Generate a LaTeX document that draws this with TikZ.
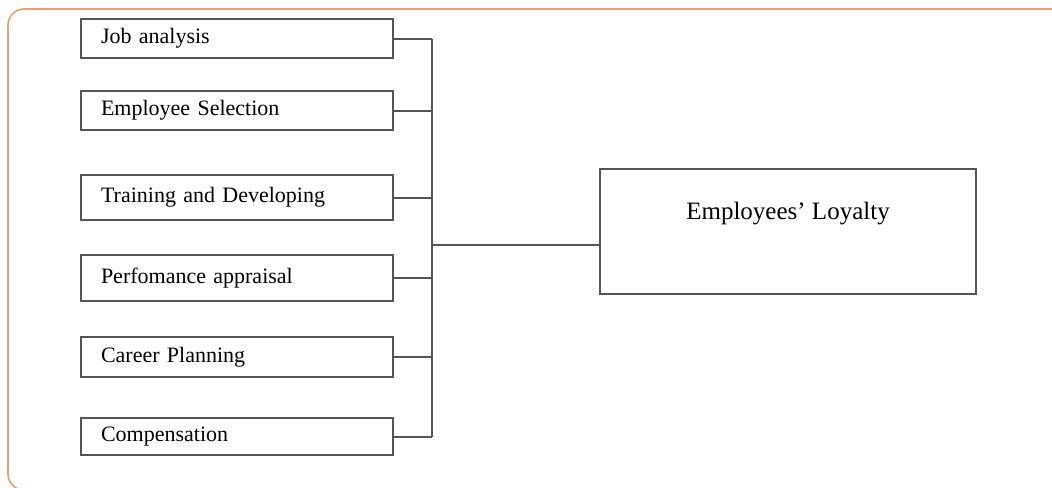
\documentclass[tikz,border=0pt]{standalone}
\usepackage{fontspec}
\setmainfont{Liberation Serif}
\usepackage{tikz}
\definecolor{framecol}{RGB}{232,160,112}
\definecolor{linecol}{RGB}{85,85,85}
\newcommand{\boxcol}{linecol}

\begin{document}
\begin{tikzpicture}[x=0.5pt, y=-0.5pt,
    factor/.style={draw=\boxcol, line width=1pt, rectangle, inner xsep=10pt,
      text width=136pt, align=left, minimum height=19.5pt, font=\fontsize{11}{13}\selectfont},
    result/.style={draw=\boxcol, line width=1pt, rectangle, minimum width=188pt, minimum height=62.5pt}]

    \useasboundingbox (0, 0) rectangle (1052, 487);
    \clip (0, 0) rectangle (1052, 487);
    \fill[white] (0, 0) rectangle (1052, 487);

    % cadre
    \draw[framecol, line width=0.8pt, rounded corners=8pt] (8, 9) rectangle (1080, 490);

    \node[factor] (f1) at (237, 38.5) {Job analysis};
    \node[factor] (f2) at (237, 110.5) {Employee Selection};
    \node[factor, minimum height=22.5pt] (f3) at (237, 197.5) {Training and Developing};
    \node[factor, minimum height=23pt] (f4) at (237, 278) {Perfomance appraisal};
    \node[factor, minimum height=20pt] (f5) at (237, 357) {Career Planning};
    \node[factor, minimum height=18.5pt] (f6) at (237, 436.5) {Compensation};

    \node[result] (loyal) at (788, 231.5) {};
    \node[font=\fontsize{12.5}{15}\selectfont] (loyaltxt) at (788, 214) {Employees' Loyalty};

    % barre verticale
    \coordinate (bus) at (432, 245);
    \foreach \i in {1,...,6}
      \draw[draw=\boxcol, line width=1pt] (f\i.east) -- (f\i.east -| bus);
    \draw[draw=\boxcol, line width=1pt] (f1.east -| bus) -- (f6.east -| bus);
    \draw[draw=\boxcol, line width=1pt] (bus) -- (bus -| loyal.west);

\end{tikzpicture}
\end{document}
